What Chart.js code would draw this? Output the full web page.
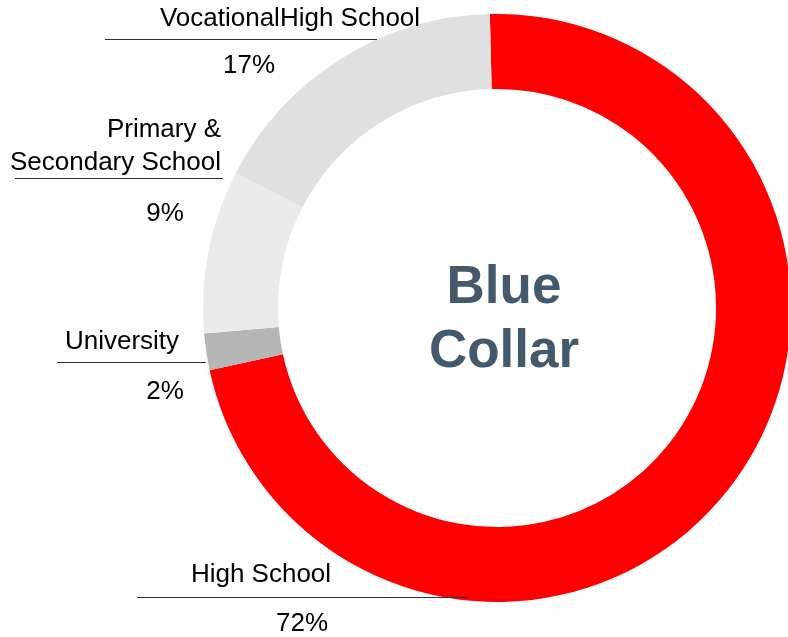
<!DOCTYPE html>
<html>
<head>
<meta charset="utf-8">
<script src="https://cdn.jsdelivr.net/npm/chart.js@4/dist/chart.umd.min.js"></script>
<style>
  html, body { margin: 0; padding: 0; background: #fff; overflow: hidden; }
  #wrap { width: 794px; height: 637px; }
</style>
</head>
<body>
<div id="wrap"><canvas id="chart" width="794" height="637"></canvas></div>
<script>
// education split, clockwise from 12 o'clock
const categories = ['High School', 'University', 'Primary & Secondary School', 'VocationalHigh School'];
const shares = [72, 2, 9, 17];
const sliceColors = ['#ff0000', '#b6b6b6', '#ebebeb', '#e0e0e0'];
const centerTitle = ['Blue', 'Collar'];

// where each callout sits (name lines, rule, percentage)
const callouts = [
    { lines: ['High School'], align: 'center', x: 261, y: 582, rule: [137, 468, 597], pctX: 302, pctY: 631 },
    { lines: ['University'], align: 'center', x: 122, y: 349, rule: [57, 206, 362], pctX: 165, pctY: 399 },
    { lines: ['Primary &', 'Secondary School'], align: 'right', x: 221, y: 137, rule: [15, 223, 178], pctX: 165, pctY: 221 },
    { lines: ['VocationalHigh School'], align: 'center', x: 290, y: 26, rule: [105, 377, 39], pctX: 249, pctY: 73 }
];

const calloutPlugin = {
    id: 'callouts',
    afterDraw(chart) {
        const ctx = chart.ctx;
        const meta = chart.getDatasetMeta(0);
        ctx.save();
        ctx.font = '26px "Liberation Sans", Arial, sans-serif';
        ctx.fillStyle = '#000';
        ctx.textBaseline = 'alphabetic';
        callouts.forEach((c, i) => {
            ctx.textAlign = c.align;
            c.lines.forEach((t, j) => ctx.fillText(t, c.x, c.y + j * 33));
            ctx.strokeStyle = '#333';
            ctx.lineWidth = 1;
            ctx.beginPath();
            ctx.moveTo(c.rule[0], c.rule[2] + 0.5);
            ctx.lineTo(c.rule[1], c.rule[2] + 0.5);
            ctx.stroke();
            ctx.textAlign = 'center';
            ctx.fillText(shares[i] + '%', c.pctX, c.pctY);
        });

        // title in the hole
        const arc = meta.data[0];
        ctx.font = 'bold 53px "Liberation Sans", Arial, sans-serif';
        ctx.fillStyle = '#44596b';
        ctx.textAlign = 'center';
        ctx.fillText(centerTitle[0], arc.x + 7, arc.y - 5);
        ctx.fillText(centerTitle[1], arc.x + 7, arc.y + 59);
        ctx.restore();
    }
};

new Chart(document.getElementById('chart'), {
    type: 'doughnut',
    data: {
        labels: categories,
        datasets: [{
            data: shares,
            backgroundColor: sliceColors,
            hoverBackgroundColor: sliceColors,
            borderWidth: 0
        }]
    },
    options: {
        responsive: false,
        animation: false,
        rotation: -1.4,
        cutout: '74.5%',
        layout: { padding: { left: 203, right: 3, top: 14, bottom: 35 } },
        plugins: {
            legend: { display: false },
            tooltip: { enabled: false }
        }
    },
    plugins: [calloutPlugin]
});
</script>
</body>
</html>
